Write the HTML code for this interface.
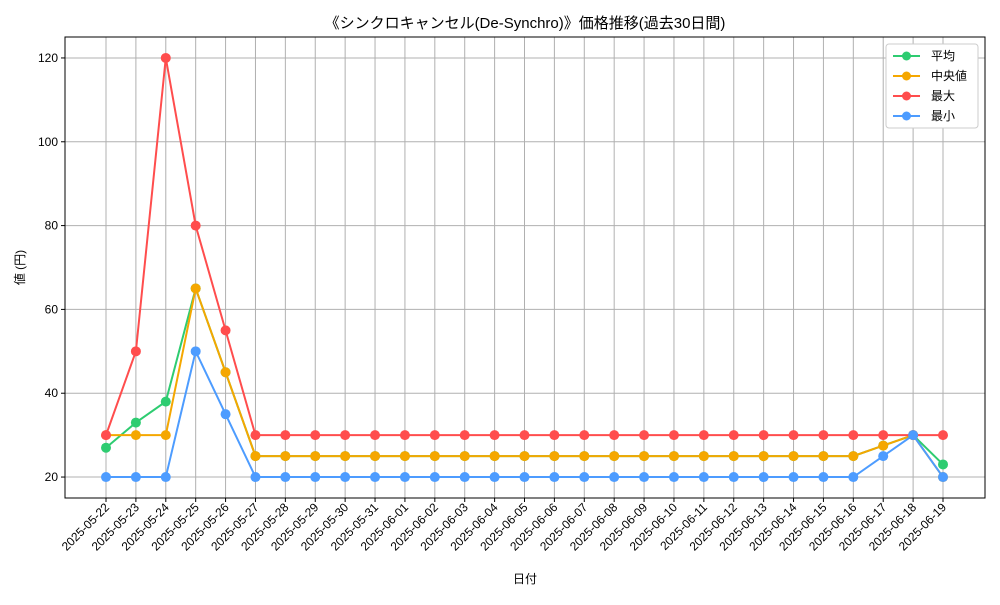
<!DOCTYPE html>
<html><head><meta charset="utf-8"><style>
html,body{margin:0;padding:0;background:#fff;}
svg text{font-family:"Liberation Sans","Noto Sans CJK JP",sans-serif;fill:#000;}
</style></head><body>
<svg id="chart" width="1000" height="600" xmlns="http://www.w3.org/2000/svg"></svg>
<script>
const dates=["2025-05-22","2025-05-23","2025-05-24","2025-05-25","2025-05-26","2025-05-27","2025-05-28","2025-05-29","2025-05-30","2025-05-31","2025-06-01","2025-06-02","2025-06-03","2025-06-04","2025-06-05","2025-06-06","2025-06-07","2025-06-08","2025-06-09","2025-06-10","2025-06-11","2025-06-12","2025-06-13","2025-06-14","2025-06-15","2025-06-16","2025-06-17","2025-06-18","2025-06-19"];
const avgValues=[27,33,38,65,45,25,25,25,25,25,25,25,25,25,25,25,25,25,25,25,25,25,25,25,25,25,27.5,30,23];
const medianValues=[30,30,30,65,45,25,25,25,25,25,25,25,25,25,25,25,25,25,25,25,25,25,25,25,25,25,27.5,30,20];
const maxValues=[30,50,120,80,55,30,30,30,30,30,30,30,30,30,30,30,30,30,30,30,30,30,30,30,30,30,30,30,30];
const minValues=[20,20,20,50,35,20,20,20,20,20,20,20,20,20,20,20,20,20,20,20,20,20,20,20,20,20,25,30,20];
const yTicks=[20,40,60,80,100,120];
const seriesNames=["平均","中央値","最大","最小"];

const NS="http://www.w3.org/2000/svg";
const svg=document.getElementById("chart");
const L=65,R=985,T=37,B=498,yMin=15,yMax=125;
const xFirst=106,xLast=943;
function xs(i){return xFirst+(xLast-xFirst)*i/(dates.length-1);}
function ys(v){return B-(v-yMin)/(yMax-yMin)*(B-T);}
function mk(tag,attrs,parent){const e=document.createElementNS(NS,tag);for(const k in attrs)e.setAttribute(k,attrs[k]);(parent||svg).appendChild(e);return e;}

// grid
const grid=mk("g",{});


dates.forEach((d,i)=>{mk("line",{x1:xs(i),x2:xs(i),y1:T,y2:B,stroke:"#b0b0b0","stroke-width":1},grid);});
yTicks.forEach(v=>{mk("line",{x1:L,x2:R,y1:ys(v),y2:ys(v),stroke:"#b0b0b0","stroke-width":1},grid);});

// y axis ticks
const yAxis=mk("g",{});


yTicks.forEach(v=>{
  mk("line",{x1:L-4,x2:L,y1:ys(v),y2:ys(v),stroke:"#000"},yAxis);
  const t=mk("text",{x:L-7,y:ys(v)+4,"text-anchor":"end","font-size":12},yAxis);
  t.textContent=v;
});
// x axis ticks
const xAxis=mk("g",{});


dates.forEach((d,i)=>{
  mk("line",{x1:xs(i),x2:xs(i),y1:B,y2:B+4,stroke:"#000"},xAxis);
  const t=mk("text",{x:xs(i)+4,y:B+10,"text-anchor":"end","font-size":12,transform:`rotate(-45 ${xs(i)+4} ${B+10})`},xAxis);
  t.textContent=d;
});

// series
const series=[[avgValues,"#2ecc71","avg"],[medianValues,"#f5a700","median"],[maxValues,"#ff4d4d","max"],[minValues,"#4d9cff","min"]];
series.forEach(([vals,col,nm])=>{
  const g=mk("g",{});
  
  
  mk("polyline",{points:vals.map((v,i)=>xs(i)+","+ys(v)).join(" "),fill:"none",stroke:col,"stroke-width":2},g);
  vals.forEach((v,i)=>{
    const c=mk("circle",{cx:xs(i),cy:ys(v),r:5,fill:col},g);
    
    
  });
});

// frame
const frame=mk("rect",{x:L,y:T,width:R-L,height:B-T,fill:"none",stroke:"#000","stroke-width":1});



// titles
const title=mk("text",{x:(L+R)/2,y:28,"text-anchor":"middle","font-size":15});
title.textContent="《シンクロキャンセル(De-Synchro)》価格推移(過去30日間)";


const xt=mk("text",{x:(L+R)/2,y:583,"text-anchor":"middle","font-size":12});
xt.textContent="日付";


const yt=mk("text",{x:24,y:(T+B)/2,"text-anchor":"middle","font-size":12,transform:`rotate(-90 24 ${(T+B)/2})`});
yt.textContent="値 (円)";



// legend
const lg=mk("g",{});


mk("rect",{x:886,y:44,width:92,height:84,fill:"#fff",stroke:"#ccc",rx:3},lg);
series.forEach(([vals,col,nm],k)=>{
  const y=56+k*20;
  const e=mk("g",{},lg);
  
  
  mk("line",{x1:893,x2:920,y1:y,y2:y,stroke:col,"stroke-width":2},e);
  mk("circle",{cx:906.5,cy:y,r:4.5,fill:col},e);
  const t=mk("text",{x:931,y:y+4,"font-size":12},e);
  t.textContent=seriesNames[k];
});
</script>
</body></html>
